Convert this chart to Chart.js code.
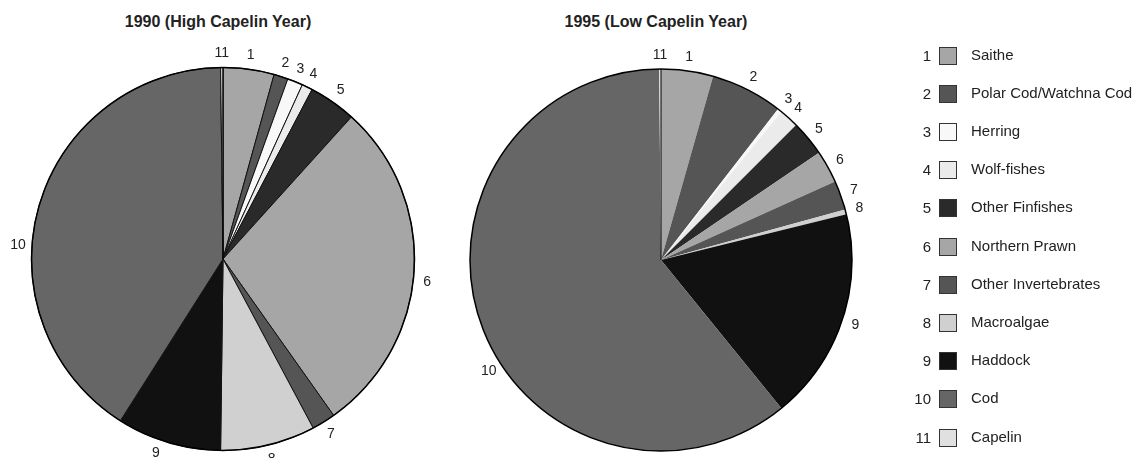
<!DOCTYPE html>
<html lang="en">
<head>
  <meta charset="UTF-8" />
  <title>Catch composition 1990 / 1995</title>
  <script src="https://cdn.jsdelivr.net/npm/chart.js"></script>
  <style>
    * {
      box-sizing: border-box;
    }

    body {
      margin: 0;
      padding: 0;
      background: #ffffff;
      font-family: 'Liberation Sans', Arial, sans-serif;
      color: #222;
    }

    .stage {
      position: relative;
      width: 1148px;
      height: 458px;
      overflow: hidden;
    }

    .stage canvas {
      position: absolute;
      top: 0;
    }

    .title {
      position: absolute;
      top: 13px;
      font-size: 16px;
      font-weight: bold;
      color: #222;
      white-space: nowrap;
      transform: translateX(-50%);
    }

    .legend-row {
      position: absolute;
      left: 0;
      height: 18px;
      width: 1148px;
      font-size: 15px;
      line-height: 18px;
    }

    .legend-row .num {
      position: absolute;
      right: 217px;
      top: 0;
      text-align: right;
    }

    .legend-row .box {
      position: absolute;
      left: 939px;
      top: 0;
      width: 18px;
      height: 18px;
      border: 1px solid #333;
    }

    .legend-row .txt {
      position: absolute;
      left: 971px;
      top: -1px;
      white-space: nowrap;
    }
  </style>
</head>
<body>

  <div class="stage" id="stage">
    <div class="title" style="left:218px">1990 (High Capelin Year)</div>
    <div class="title" style="left:656px">1995 (Low Capelin Year)</div>
    <canvas id="pie1990" width="446" height="458" style="left:0px"></canvas>
    <canvas id="pie1995" width="440" height="458" style="left:446px"></canvas>
  </div>

  <script>
    const numbers = ['1', '2', '3', '4', '5', '6', '7', '8', '9', '10', '11'];
    const species = [
      'Saithe', 'Polar Cod/Watchna Cod', 'Herring', 'Wolf-fishes', 'Other Finfishes',
      'Northern Prawn', 'Other Invertebrates', 'Macroalgae', 'Haddock', 'Cod', 'Capelin'
    ];
    const shades = [
      '#a6a6a6', '#555555', '#f8f8f8', '#ebebeb', '#2a2a2a',
      '#a6a6a6', '#555555', '#d0d0d0', '#111111', '#666666', '#e0e0e0'
    ];
    // share of catch (%)
    const values1990 = [4.3, 1.2, 1.3, 0.9, 4.0, 28.5, 2.0, 8.0, 8.8, 40.8, 0.2];
    const values1995 = [4.4, 6.1, 0.35, 1.65, 3.0, 2.75, 2.5, 0.4, 18.0, 60.7, 0.15];

    // number next to every slice + the black rim
    const numberLabels = {
      id: 'numberLabels',
      afterDatasetsDraw(chart, args, opts) {
        const ctx = chart.ctx;
        const meta = chart.getDatasetMeta(0);
        const nudge = opts.nudge || {};
        let cx = 0, cy = 0, rad = 0;
        ctx.save();
        ctx.font = '14px "Liberation Sans", Arial, sans-serif';
        ctx.fillStyle = '#222';
        ctx.textAlign = 'center';
        ctx.textBaseline = 'middle';
        meta.data.forEach((arc, i) => {
          const p = arc.getProps(['x', 'y', 'startAngle', 'endAngle', 'outerRadius'], true);
          cx = p.x; cy = p.y; rad = p.outerRadius;
          const mid = (p.startAngle + p.endAngle) / 2 + (nudge[i] || 0) * Math.PI / 180;
          const r = p.outerRadius + 14;
          ctx.fillText(numbers[i], p.x + Math.cos(mid) * r, p.y + Math.sin(mid) * r);
        });
        ctx.beginPath();
        ctx.moveTo(cx, cy);
        ctx.lineTo(cx, cy - rad);
        ctx.lineWidth = 1;
        ctx.strokeStyle = '#000';
        ctx.stroke();
        ctx.beginPath();
        ctx.arc(cx, cy, rad, 0, Math.PI * 2);
        ctx.lineWidth = 1.5;
        ctx.stroke();
        ctx.restore();
      }
    };

    function makePie(id, values, pad, edge, nudge) {
      return new Chart(document.getElementById(id), {
        type: 'pie',
        data: {
          labels: species,
          datasets: [{
            data: values,
            backgroundColor: shades,
            borderColor: '#111',
            borderWidth: edge
          }]
        },
        options: {
          responsive: false,
          animation: false,
          layout: { padding: pad },
          plugins: {
            legend: { display: false },
            tooltip: { enabled: false },
            numberLabels: { nudge: nudge }
          }
        },
        plugins: [numberLabels]
      });
    }

    makePie('pie1990', values1990, { left: 31, right: 31, top: 67, bottom: 7 }, 1, { 5: 3, 8: 2.5, 9: -12 });
    makePie('pie1995', values1995, { left: 24, right: 34, top: 69, bottom: 7 }, 0, { 9: -13 });

    // legend built from the same arrays
    const stage = document.getElementById('stage');
    species.forEach((name, i) => {
      const row = document.createElement('div');
      row.className = 'legend-row';
      row.style.top = (46.5 + i * 38.2) + 'px';
      row.innerHTML =
        '<span class="num">' + numbers[i] + '</span>' +
        '<span class="box" style="background:' + shades[i] + '"></span>' +
        '<span class="txt">' + name + '</span>';
      stage.appendChild(row);
    });
  </script>

</body>
</html>
